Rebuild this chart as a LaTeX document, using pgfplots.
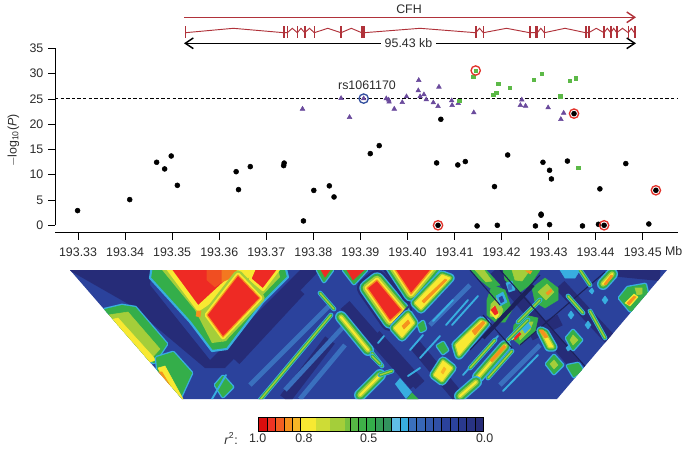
\documentclass[border=0pt]{standalone}
\usepackage{fontspec}
\setmainfont{Liberation Sans}
\usepackage{pgfplots}
\pgfplotsset{compat=1.18}
\usetikzlibrary{arrows.meta}

\definecolor{txt}{HTML}{2B2B2B}
\definecolor{genered}{HTML}{B0323A}
\definecolor{ptpurple}{HTML}{6A4A9C}
\definecolor{ptgreen}{HTML}{5CB947}
\definecolor{ringred}{HTML}{E2332B}
\definecolor{ringblue}{HTML}{34509F}
% heat map ramp
\definecolor{hNavy}{HTML}{262C78}
\definecolor{hBlue}{HTML}{2B429C}
\definecolor{hSky}{HTML}{3A70BE}
\definecolor{hCyan}{HTML}{38AEE0}
\definecolor{hGreen}{HTML}{34AE4A}
\definecolor{hLime}{HTML}{A4CE3A}
\definecolor{hYellow}{HTML}{F8E932}
\definecolor{hOrange}{HTML}{F5921E}
\definecolor{hRed}{HTML}{EE2A24}

\newcommand{\fnt}{\fontsize{9.3}{11}\selectfont}

% layered polygons: halo strokes first, the core last
\newcommand{\hotblock}[1]{%
    \addplot[draw=hNavy, line width=15pt, line join=round] coordinates {#1} --cycle;
    \addplot[draw=hCyan, line width=11.5pt, line join=round] coordinates {#1} --cycle;
    \addplot[draw=hGreen, line width=9.5pt, line join=round] coordinates {#1} --cycle;
    \addplot[draw=hLime, line width=6.5pt, line join=round] coordinates {#1} --cycle;
    \addplot[draw=hYellow, line width=3.5pt, line join=round] coordinates {#1} --cycle;
    \addplot[draw=hOrange, fill=hRed, line width=1pt, line join=round] coordinates {#1} --cycle;
}
\newcommand{\warmblock}[1]{%
    \addplot[draw=hCyan, line width=7pt, line join=round] coordinates {#1} --cycle;
    \addplot[draw=hGreen, line width=5pt, line join=round] coordinates {#1} --cycle;
    \addplot[draw=hLime, line width=2.5pt, line join=round] coordinates {#1} --cycle;
    \addplot[draw=hYellow, fill=hYellow, line width=.5pt, line join=round] coordinates {#1} --cycle;
}
\newcommand{\greenblock}[1]{%
    \addplot[draw=hCyan, line width=3.5pt, line join=round] coordinates {#1} --cycle;
    \addplot[draw=hGreen, fill=hGreen, line width=1.5pt, line join=round] coordinates {#1} --cycle;
}
\newcommand{\stripe}[1]{%
    \addplot[draw=hCyan, line width=3.6pt, line cap=round] coordinates {#1};
    \addplot[draw=hGreen, line width=2.4pt, line cap=round] coordinates {#1};
    \addplot[draw=hLime, line width=1pt, line cap=round] coordinates {#1};
}
\newcommand{\wstripe}[1]{%
    \addplot[draw=hCyan, line width=9pt, line cap=round] coordinates {#1};
    \addplot[draw=hGreen, line width=7pt, line cap=round] coordinates {#1};
    \addplot[draw=hLime, line width=4pt, line cap=round] coordinates {#1};
    \addplot[draw=hYellow, line width=1.6pt, line cap=round] coordinates {#1};
}
\newcommand{\sky}[1]{\addplot[draw=hCyan, line width=1.4pt, line cap=round] coordinates {#1};}
\newcommand{\dark}[1]{\addplot[draw=hNavy!75!black, line width=.8pt] coordinates {#1};}
\newcommand{\navy}[1]{\addplot[draw=hNavy, line width=9pt] coordinates {#1};}
\newcommand{\soft}[1]{\addplot[draw=hSky, line width=3.5pt] coordinates {#1};}
\newcommand{\bit}[2]{\addplot[draw=#1, fill=#1, line width=.4pt] coordinates {#2} --cycle;}
\newcommand{\seg}[3]{\addplot[draw=black, fill=#3, line width=.5pt] coordinates {(#1,417)(#2,417)(#2,431)(#1,431)} --cycle;}
\newcommand{\fadeseg}[3]{\addplot[draw=none, fill=#3] coordinates {(#1,417.3)(#2,417.3)(#2,430.7)(#1,430.7)} --cycle;}

\begin{document}
\begin{tikzpicture}
% page frame in reference pixels, origin top left
\path[use as bounding box, x=.75pt, y=-.75pt] (0,0) rectangle (692,450);

% ---- LD heat map, pixel coordinates, clipped to the trapezoid
\begin{scope}
\clip[x=.75pt, y=-.75pt] (70,270) -- (667,270) -- (557,399) -- (182,399) -- cycle;
\begin{axis}[
    at={(0pt,-337.5pt)}, anchor=south west,
    scale only axis, width=519pt, height=337.5pt,
    xmin=0, xmax=692, ymin=0, ymax=450, y dir=reverse,
    hide axis, no markers, clip=false,
]
\addplot[draw=none, fill=hBlue] coordinates {(60,265)(680,265)(680,405)(60,405)} --cycle;
% dark bands
\addplot[draw=none, fill=hNavy] coordinates {(60,265)(152,265)(150,285)(210,360)(250,320)(300,270)(320,270)(225,368)(205,368)(130,305)} --cycle;
\navy{(300,290)(235,360)}
\navy{(345,305)(415,385)}
\navy{(375,335)(420,385)}
\navy{(330,340)(285,399)}
\navy{(415,345)(460,399)}
\navy{(610,270)(660,275)}
\navy{(495,270)(575,365)}
\navy{(530,335)(560,320)}
\navy{(560,285)(620,350)}
\soft{(250,385)(330,305)}
\soft{(285,390)(345,325)}
\soft{(300,399)(345,345)}
\soft{(430,325)(470,285)}
\soft{(500,385)(540,345)}
% left edge blocks
\greenblock{(105,310)(122,306)(135,308)(166,344)(154,362)(126,352)}
\bit{hLime}{(108,315)(128,312)(160,349)(150,360)}
\bit{hYellow}{(110,320)(118,318)(156,360)(150,362)}
\bit{hOrange}{(105,320)(114,323)(152,365)(145,365)}
\greenblock{(157,358)(173,353)(191,373)(180,397)(170,399)(160,385)}
\bit{hYellow}{(158,368)(165,366)(183,399)(174,399)}
\bit{hOrange}{(158,372)(162,372)(178,399)(172,399)}
\greenblock{(216,385)(223,377)(232,387)(223,396)}
\sky{(212,399)(226,375)}
% big block
\addplot[draw=hCyan, fill=hGreen, line width=1.6pt, line join=round] coordinates {(152,265)(150,278)(190,322)(212,351)(227,349)(263,302)(288,277)(285,265)} --cycle;
\addplot[draw=none, fill=hLime] coordinates {(158,265)(195,310)(212,343)(226,341)(256,302)(280,277)(277,265)} --cycle;
\addplot[draw=none, fill=hYellow] coordinates {(163,265)(198,312)(260,270)(275,265)} --cycle;
\addplot[draw=hYellow, fill=hRed, line width=2pt, line join=round] coordinates {(167,265)(198,307)(236,272)(236,265)} --cycle;
\bit{hRed!65!hOrange}{(207,265)(222,265)(222,282)(215,287)(207,280)}
\bit{hOrange!75!hRed}{(222,265)(240,265)(231,278)(222,282)}
\bit{hYellow}{(238,265)(250,265)(243,273)}
\addplot[draw=hYellow, fill=hRed, line width=2pt, line join=round] coordinates {(256,265)(282,265)(263,290)(250,279)} --cycle;
\addplot[draw=hLime, line width=7pt, line join=round] coordinates {(238,275)(260,298)(223,337)(207,315)} --cycle;
\addplot[draw=hYellow, line width=3.5pt, line join=round] coordinates {(238,275)(260,298)(223,337)(207,315)} --cycle;
\addplot[draw=hOrange, fill=hRed, line width=.8pt, line join=round] coordinates {(238,275)(260,298)(223,337)(207,315)} --cycle;
\bit{hOrange}{(197,311)(201,311)(200,317)(196,316)}
% middle thin stripes
\stripe{(260,400)(331,315)}
\wstripe{(341,317)(368,350)}
\stripe{(320,293)(334,309)}
\greenblock{(318,270)(332,270)(324,281)}
\bit{hRed}{(321,270)(330,270)(325,277)}
% two red blocks and their neighbours
\greenblock{(344,270)(366,270)(354,283)}
\bit{hRed}{(347,270)(364,270)(353,280)}
\hotblock{(367,288)(377,280)(402,310)(390,321)}
\hotblock{(392,265)(435,265)(411,294)}
\addplot[draw=white!5!hNavy, line width=1.5pt] coordinates {(440,272)(390,327)};
\warmblock{(442,275)(450,278)(421,309)(415,303)}
\bit{hOrange}{(445,279)(447,280)(424,303)(422,301)}
\warmblock{(394,328)(408,314)(414,323)(402,337)}
\bit{hOrange}{(402,326)(408,320)(410,323)(404,329)}
\sky{(378,343)(384,336)}
\greenblock{(419,325)(423,322)(425,329)(421,331)}
\sky{(410,350)(423,335)}
\sky{(433,321)(453,300)}
\sky{(420,358)(440,336)}
\sky{(408,376)(420,368)}
\sky{(446,325)(468,300)}
\sky{(452,325)(478,296)}
% long block with the orange tip
\warmblock{(456,345)(481,321)(486,323)(459,355)}
\bit{hOrange}{(472,331)(483,321)(485,323)(475,335)}
\warmblock{(434,375)(443,361)(452,368)(442,381)}
\bit{hOrange!60!hYellow}{(441,372)(444,367)(446,369)(443,374)}
\stripe{(372,353)(382,366)}
\stripe{(372,356)(380,364)}
\wstripe{(360,395)(380,375)}
\stripe{(380,375)(392,371)}
\addplot[draw=none, fill=hCyan] coordinates {(395,384)(400,378)(412,392)(406,399)} --cycle;
\bit{hGreen}{(407,399)(412,393)(418,399)}
\greenblock{(438,346)(443,343)(447,350)(443,353)}
% noisy part: short green and cyan pieces
\sky{(463,375)(498,336)}
\stripe{(470,368)(495,340)}
\stripe{(488,378)(512,351)}
\wstripe{(478,377)(505,346)}
\bit{hOrange}{(490,360)(504,345)(506,347)(492,362)}
\wstripe{(460,396)(476,382)}
\sky{(503,391)(538,355)}
\bit{hGreen}{(487,315)(487,300)(492,285)(505,290)(512,310)(505,322)(495,322)}
\bit{hLime}{(490,316)(491,304)(497,298)(503,310)(500,318)}
\bit{hYellow}{(490,312)(494,306)(499,314)(496,319)}
\bit{hRed}{(491,310)(495,306)(498,313)(495,315)}
\bit{hCyan}{(496,296)(503,292)(507,302)(500,306)}
\bit{hBlue}{(499,298)(502,296)(504,301)(501,303)}
\bit{hGreen}{(470,270)(486,270)(500,285)(490,288)(480,280)}
\bit{hLime}{(475,270)(484,270)(492,281)(486,282)}
\bit{hGreen}{(503,270)(540,270)(530,285)(520,292)(505,280)}
\bit{hLime}{(512,270)(530,270)(522,281)(515,280)}
\bit{hCyan}{(506,283)(512,281)(515,290)(509,292)}
\bit{hSky}{(508,285)(511,284)(512,289)(509,290)}
\bit{hOrange}{(526,271)(532,271)(530,274)}
\bit{hGreen}{(532,288)(545,278)(558,288)(558,300)(545,308)(535,302)}
\bit{hLime}{(538,292)(547,284)(554,292)(546,300)}
\bit{hOrange}{(546,293)(551,289)(552,291)(548,295)}
\bit{hGreen}{(514,325)(525,315)(538,318)(535,332)(520,345)(512,338)}
\bit{hLime}{(518,332)(527,322)(533,322)(530,330)(520,340)}
\bit{hCyan}{(522,328)(528,323)(531,327)(525,333)}
\bit{hRed}{(513,338)(519,332)(521,334)(515,340)}
\bit{hYellow}{(510,336)(513,333)(514,338)(512,340)}
\stripe{(508,340)(528,320)}
\stripe{(540,300)(518,322)}
\addplot[draw=hNavy!75!black, line width=3pt] coordinates {(533,285)(483,338)};
\dark{(483,315)(512,348)}
\dark{(470,270)(500,305)}
\dark{(500,270)(590,372)}
\dark{(540,275)(470,350)}
\dark{(520,345)(605,272)}
% right hand part
\warmblock{(541,331)(545,333)(553,347)(549,347)}
\bit{hOrange}{(539,330)(543,330)(548,337)(545,338)}
\greenblock{(567,338)(573,331)(581,340)(573,349)}
\bit{hLime}{(570,340)(573,335)(578,340)(573,345)}
\bit{hCyan}{(566,348)(569,345)(571,349)(568,351)}
\greenblock{(547,364)(554,356)(562,365)(554,373)}
\bit{hLime}{(550,364)(554,360)(558,365)(554,369)}
\greenblock{(568,366)(578,364)(582,370)(574,376)}
\stripe{(568,296)(583,313)}
\stripe{(590,311)(605,338)}
\bit{hCyan}{(568,315)(571,311)(574,315)(571,319)}
\bit{hCyan}{(585,325)(588,321)(591,325)(588,329)}
\bit{hCyan}{(602,300)(605,296)(608,300)(605,304)}
\bit{hCyan}{(589,291)(592,288)(594,291)(592,294)}
\bit{hCyan}{(560,270)(580,270)(575,278)(565,278)}
\wstripe{(603,284)(612,274)}
\bit{hOrange}{(604,284)(611,275)(613,276)(606,285)}
\stripe{(580,270)(590,285)}
\greenblock{(620,298)(628,288)(645,285)(648,298)(636,312)(630,310)}
\bit{hYellow}{(625,303)(634,294)(638,297)(630,306)}
\bit{hOrange}{(627,303)(634,296)(636,297)(629,305)}
\bit{hLime}{(635,288)(642,288)(642,294)(637,295)}
\end{axis}
\end{scope}

% ---- gene track and r2 key, pixel coordinates
\begin{axis}[
    at={(0pt,-337.5pt)}, anchor=south west,
    scale only axis, width=519pt, height=337.5pt,
    xmin=0, xmax=692, ymin=0, ymax=450, y dir=reverse,
    hide axis, no markers, clip=false,
    unbounded coords=jump,
]
\addplot[draw=genered, line width=1.1pt, -{Straight Barb[length=6pt,width=8pt]}] coordinates {(184,17.3)(636,17.3)};
\addplot[draw=genered, line width=.7pt] coordinates {
    (185.3,32.7)(233.3,28.3)(284,32.7)(287.3,32.7)(292.3,28.3)(297.3,32.7)(301,28.3)(304.7,32.7)
    (309.5,28.3)(314.3,32.7)(327.7,28.3)(341,32.7)(351.3,28.3)(361.7,32.7)(364,32.7)(420,28.3)
    (475.7,32.7)(479.5,28.3)(483.3,32.7)(506.5,28.3)(529.7,32.7)(537.3,32.7)(540.8,28.3)(544.3,32.7)
    (565,28.3)(585.7,32.7)(588.7,32.7)(596.3,28.3)(604,32.7)(607.3,28.3)(610.7,32.7)(613.7,28.3)
    (616.7,32.7)(622.5,28.3)(628.3,32.7)(631.3,28.3)(634.3,32.7)};
\addplot[draw=genered, line width=1.2pt] coordinates {
    (185.3,26)(185.3,38.3)(185.3,nan)
    (284,26)(284,38.3)(284,nan)
    (287.3,26)(287.3,38.3)(287.3,nan)
    (297.3,26)(297.3,38.3)(297.3,nan)
    (304.7,26)(304.7,38.3)(304.7,nan)
    (314.3,26)(314.3,38.3)(314.3,nan)
    (341,26)(341,38.3)(341,nan)
    (361.7,26)(361.7,38.3)(361.7,nan)
    (364,26)(364,38.3)(364,nan)
    (475.7,26)(475.7,38.3)(475.7,nan)
    (483.3,26)(483.3,38.3)(483.3,nan)
    (529.7,26)(529.7,38.3)(529.7,nan)
    (535.7,26)(535.7,38.3)(535.7,nan)
    (537.3,26)(537.3,38.3)(537.3,nan)
    (544.3,26)(544.3,38.3)(544.3,nan)
    (585.7,26)(585.7,38.3)(585.7,nan)
    (588.7,26)(588.7,38.3)(588.7,nan)
    (604,26)(604,38.3)(604,nan)
    (610.7,26)(610.7,38.3)(610.7,nan)
    (616.7,26)(616.7,38.3)(616.7,nan)
    (628.3,26)(628.3,38.3)(628.3,nan)
    (634.3,26)(634.3,38.3)(634.3,nan)
    (635.6,26)(635.6,38.3)};
\addplot[draw=black, line width=1.1pt, {Straight Barb[length=6pt,width=8pt]}-{Straight Barb[length=6pt,width=8pt]}] coordinates {(184,43.3)(636,43.3)};
\node[fill=white, inner xsep=3pt, inner ysep=0pt, text=txt, font=\fnt] at (axis cs:408.5,43.3) {95.43 kb};
\node[text=txt, font=\fnt] at (axis cs:409,9.5) {CFH};

% r2 key
\seg{258}{267}{red!85!black!95!white}
\seg{267}{275.7}{hRed!90!hOrange}
\seg{275.7}{284}{hRed!50!hOrange}
\seg{284}{292.3}{hOrange}
\seg{292.3}{300.7}{hOrange!60!hYellow}
\fadeseg{300.7}{316}{hYellow}
\fadeseg{316}{330}{hYellow!50!hLime}
\fadeseg{330}{345}{hLime}
\fadeseg{345}{350}{hLime!60!hGreen}
\addplot[draw=black, line width=.5pt] coordinates {(300.7,417)(350,417)(350,431)(300.7,431)} --cycle;
\seg{350}{358.3}{hLime!30!hGreen}
\seg{358.3}{366.7}{hGreen!90!hLime}
\seg{366.7}{375}{hGreen}
\seg{375}{383.3}{hGreen!85!hBlue}
\seg{383.3}{391.7}{hGreen!75!hBlue}
\seg{391.7}{400}{hCyan!80!white}
\seg{400}{408.3}{hCyan}
\seg{408.3}{416.7}{hSky}
\seg{416.7}{425}{hSky!80!hBlue}
\seg{425}{433.3}{hSky!50!hBlue}
\seg{433.3}{441.7}{hSky!30!hBlue}
\seg{441.7}{450}{hBlue}
\seg{450}{458.3}{hBlue}
\seg{458.3}{466.7}{hBlue!60!hNavy}
\seg{466.7}{475}{hBlue!30!hNavy}
\seg{475}{483.3}{hNavy}
\node[text=txt, font=\fnt] at (axis cs:231,438.5) {\textit{r}\textsuperscript{2}:};
\node[text=txt, font=\fnt] at (axis cs:257.7,438.5) {1.0};
\node[text=txt, font=\fnt] at (axis cs:304,438.5) {0.8};
\node[text=txt, font=\fnt] at (axis cs:368.7,438.5) {0.5};
\node[text=txt, font=\fnt] at (axis cs:484.7,438.5) {0.0};
\end{axis}

% ---- association plot
\begin{axis}[
    at={(41.25pt,-174.5pt)}, anchor=south west,
    scale only axis, width=467.25pt, height=138.3pt,
    xmin=193.3251, xmax=193.4575, ymin=-1.46, ymax=35,
    axis x line=bottom, axis y line=left,
    axis line style={-, line width=.5pt},
    y axis line style={draw=none},
    xtick={193.33,193.34,193.35,193.36,193.37,193.38,193.39,193.40,193.41,193.42,193.43,193.44,193.45},
    xticklabels={193.33,193.34,193.35,193.36,193.37,193.38,193.39,193.40,193.41,193.42,193.43,193.44,193.45},
    ytick={0,5,...,35},
    tick align=outside, major tick length=5.2pt,
    tick style={black, line width=.5pt},
    tick label style={font=\fnt, text=txt},
    xticklabel style={yshift=-2.8pt},
    /pgf/number format/assume math mode=true,
    ylabel={$-$log\textsubscript{10}(\textit{P})},
    ylabel style={font=\fnt, text=txt, yshift=1pt},
    clip=false,
]
\addplot[black, line width=.7pt, dash pattern=on 2.6pt off 1.6pt] coordinates {(193.3251,25)(193.4575,25)};
\addplot[draw=black, line width=.5pt] coordinates {(193.3251,0)(193.3251,35)};
% r2 with the lead SNP high
\addplot[only marks, mark=triangle*, mark size=2pt, mark options={ptpurple, draw=ptpurple}] coordinates {
    (193.3777,23.0)(193.3859,25.1)(193.3877,21.36)(193.3907,25.05)(193.3955,25.05)(193.3960,24.8)
    (193.3961,24.4)(193.3972,23.0)(193.3989,24.3)(193.3998,25.45)(193.4024,28.67)(193.4023,26.63)
    (193.4027,25.45)(193.4035,25.84)(193.4040,24.85)(193.4055,24.26)(193.4065,23.53)(193.4067,27.36)
    (193.4094,24.65)(193.4095,23.73)(193.4108,24.1)(193.4141,22.28)(193.4243,24.8)(193.4240,23.73)
    (193.4251,23.6)(193.4299,23.27)(193.4332,22.2)(193.4326,20.96)};
% moderate r2
\addplot[only marks, mark=square*, mark size=1.3pt, mark options={ptgreen, draw=ptgreen}] coordinates {
    (193.4140,29.4)(193.4145,30.6)(193.4110,24.6)(193.4193,27.95)(193.4189,26.24)(193.4182,25.84)
    (193.4218,27.16)(193.4268,28.74)(193.4285,29.93)(193.4325,25.5)(193.4345,28.6)(193.4358,29.07)
    (193.4363,11.4)};
% low r2
\addplot[only marks, mark=*, mark size=1.85pt, mark options={black, draw=black}] coordinates {
    (193.3299,2.9)(193.34098,5.08)(193.3467,12.46)(193.3484,11.14)(193.3498,13.7)(193.3511,7.9)
    (193.3636,10.6)(193.3641,7.05)(193.3666,11.6)(193.3737,11.8)(193.3738,12.3)(193.3779,0.86)
    (193.3801,6.9)(193.3834,7.8)(193.3844,5.6)(193.3921,14.17)(193.3940,15.75)(193.4071,20.96)
    (193.4062,12.33)(193.4107,11.93)(193.4123,12.6)(193.4213,13.9)(193.4288,12.46)(193.4302,10.88)
    (193.4306,9.16)(193.4340,12.7)(193.4464,12.2)(193.4185,7.65)(193.4409,7.2)(193.4528,6.92)
    (193.4354,22.08)(193.4065,0)(193.4418,0)(193.4148,-0.13)(193.4191,0)(193.4272,-0.13)
    (193.4302,0.13)(193.4284,2.0)(193.4284,2.2)(193.4372,-0.13)(193.4406,0.2)(193.4513,0.26)};
% ringed SNPs
\addplot[only marks, mark=o, mark size=3.5pt, mark options={ringred, line width=1pt}] coordinates {
    (193.4145,30.6)(193.4354,22.08)(193.4528,6.92)(193.4065,0)(193.4418,0)};
\addplot[only marks, mark=o, mark size=3.5pt, mark options={ringblue, line width=1pt}] coordinates {(193.3907,25.05)};
\node[text=txt, font=\fnt] at (axis cs:193.3914,27.6) {rs1061170};
\node[text=txt, font=\fnt, anchor=base] at (axis cs:193.4566,-6.0) {Mb};
\end{axis}
\end{tikzpicture}
\end{document}
